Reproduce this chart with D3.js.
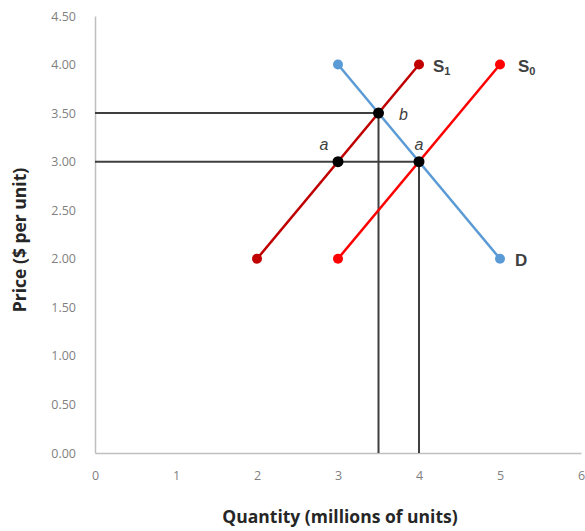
<!DOCTYPE html>
<html><head><meta charset="utf-8">
<script src="https://cdn.jsdelivr.net/npm/d3@7"></script>
<style>body{margin:0;background:#fff}</style>
</head><body>
<svg id="c" width="585" height="531"></svg>
<script>
const xTicks = [0,1,2,3,4,5,6];
const yTicks = [0,0.5,1,1.5,2,2.5,3,3.5,4,4.5];
const supply1 = [[2,2],[4,4]];
const supply0 = [[3,2],[5,4]];
const demand = [[3,4],[5,2]];
const eqPoints = [[3.5,3.5,"b"],[3,3,"a"],[4,3,"a"]];
const hLines = [[3.5,3.5],[3,4]]; // [price, quantity]
const vLines = [[3.5,3.5],[4,3]]; // [quantity, price]

const svg = d3.select("#c");
const x = d3.scaleLinear().domain([0,6]).range([95,581]);
const y = d3.scaleLinear().domain([0,4.5]).range([453,16]);

// axes
const xa = svg.append("g").attr("transform","translate(0,453)")
  .call(d3.axisBottom(x).tickValues(xTicks).tickFormat(d3.format("d")).tickSize(0).tickPadding(18));
const ya = svg.append("g").attr("transform","translate(95,0)")
  .call(d3.axisLeft(y).tickValues(yTicks).tickFormat(d3.format(".2f")).tickSize(0).tickPadding(19));
[xa,ya].forEach(a=>{
  a.select(".domain").attr("stroke","#bfbfbf").attr("stroke-width",1.5);
  a.selectAll("text").attr("fill","#7f7f7f").style("font-family","'Open Sans',sans-serif").style("font-size","12.5px");
});

// reference lines
svg.selectAll(".hl").data(hLines).enter().append("line")
  .attr("x1",x(0)).attr("x2",d=>x(d[1])).attr("y1",d=>y(d[0])).attr("y2",d=>y(d[0]))
  .attr("stroke","#3f3f3f").attr("stroke-width",2);
svg.selectAll(".vl").data(vLines).enter().append("line")
  .attr("x1",d=>x(d[0])).attr("x2",d=>x(d[0])).attr("y1",y(0)).attr("y2",d=>y(d[1]))
  .attr("stroke","#3f3f3f").attr("stroke-width",2);

const line = d3.line().x(d=>x(d[0])).y(d=>y(d[1]));
function series(data,color){
  svg.append("path").datum(data).attr("d",line).attr("fill","none").attr("stroke",color).attr("stroke-width",2.5);
  svg.selectAll(null).data(data).enter().append("circle")
    .attr("cx",d=>x(d[0])).attr("cy",d=>y(d[1])).attr("r",5).attr("fill",color);
}
series(demand,"#5b9bd5");
series(supply1,"#c00000");
series(supply0,"#ff0000");

svg.selectAll(".eq").data(eqPoints).enter().append("circle")
  .attr("cx",d=>x(d[0])).attr("cy",d=>y(d[1])).attr("r",5.5).attr("fill","#000");

// point labels
const off = {"3.5":[25,7],"3":[-14,-12],"4":[0,-12]};
svg.selectAll(".pl").data(eqPoints).enter().append("text")
  .attr("x",d=>x(d[0])+off[d[0]][0]).attr("y",d=>y(d[1])+off[d[0]][1])
  .attr("text-anchor","middle").style("font-family","'Liberation Sans',sans-serif")
  .style("font-style","italic").style("font-size","16px").attr("fill","#404040").text(d=>d[2]);

// series labels
function lab(px,py,main,sub,dx){
  const t=svg.append("text").attr("x",x(px)+dx).attr("y",y(py)+7)
    .style("font-family","'Liberation Sans',sans-serif").style("font-weight","bold")
    .style("font-size","17px").attr("fill","#404040").text(main);
  if(sub) t.append("tspan").attr("dy",3).style("font-size","11px").text(sub);
}
lab(4,4,"S","1",14);
lab(5,4,"S","0",18);
svg.append("text").attr("x",x(5)+15).attr("y",y(2)+7)
  .style("font-family","'Liberation Sans',sans-serif").style("font-weight","bold").style("font-size","17px").attr("fill","#404040").text("D");

// axis titles
svg.append("text").attr("x",340).attr("y",523).attr("text-anchor","middle")
  .style("font-family","'Open Sans',sans-serif").style("font-weight","bold").style("font-size","17.5px")
  .attr("fill","#262626").text("Quantity (millions of units)");
svg.append("text").attr("transform","translate(26,240) rotate(-90)").attr("text-anchor","middle")
  .style("font-family","'Open Sans',sans-serif").style("font-weight","bold").style("font-size","17.5px")
  .attr("fill","#262626").text("Price ($ per unit)");
</script>
</body></html>
